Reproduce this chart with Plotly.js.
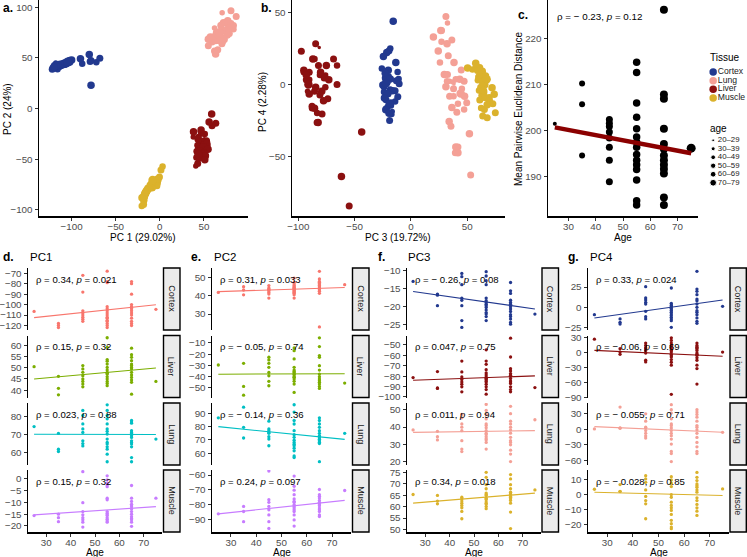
<!DOCTYPE html>
<html><head><meta charset="utf-8">
<script src="https://cdn.plot.ly/plotly-3.0.1.min.js"></script>
<style>html,body{margin:0;padding:0;background:#fff}#chart{width:747px;height:557px}</style>
</head><body><div id="chart"></div>
<script>
const W=747,H=557;
const FONT='Liberation Sans, Arial, Helvetica, sans-serif';
const tissues=['Cortex','Liver','Lung','Muscle'];
const legendTissues=['Cortex','Lung','Liver','Muscle'];
const ageBins=['20–29','30–39','40–49','50–59','60–69','70–79'];

// sample ages (same order for every tissue)
const age=[25,35,35,35,45,45,45,45,45,45,45,45,
55,55,55,55,55,55,55,55,55,55,55,55,55,55,55,
65,65,65,65,65,65,65,65,65,65,65,65,65,65,75];

const pc1Cortex=[-106.5,-118,-120,-122,-72,-88,-106,-108,-110,-112,-114,-116,-68,-78,-79,-102,-104,-106,-108,-110,-112,-113,-115,-116,-118,-120,-122,-78,-80,-90,-100,-102,-103,-104,-106,-108,-110,-113,-116,-118,-120,-104.5];
const pc2Cortex=[41.8,44.9,43.1,40.5,45.5,44.2,43.6,43.1,42.7,41.8,40.9,38.7,49.6,47.3,46.4,45.5,44.9,44.5,44,43.6,43.1,42.7,42.2,41.8,41.3,40.5,38.7,23,53.3,49.1,47.8,47.3,46.7,46,45.5,44.9,44.2,43.6,43.1,42.4,41.3,46];
const pc3Cortex=[-13.1,-19.8,-16.6,-16.9,-18.3,-25.8,-11.8,-19.8,-10.9,-23.9,-14,-17.7,-19.4,-22.8,-12.9,-21,-10.4,-23.9,-18.4,-14,-20.3,-11.6,-22.1,-17.7,-19.8,-21.7,-18.9,-15.7,-21.4,-24.4,-13.4,-20.1,-22.8,-18.3,-24.9,-16.4,-20.7,-23.5,-18.9,-22.3,-19.4,-22.1];
const pc4Cortex=[-9,-14.3,-18.4,-20.5,25.4,11.5,9,6.1,4.1,-4.9,-11.5,-14.3,23.8,4.9,2.9,2,0.8,-1.2,-3.3,-4.1,-6.1,-8.2,-10.2,-12.3,-14.3,-16.4,-24.6,44.3,22.5,19.7,15.6,10.2,8.2,4.1,0,-4.1,-6.1,-9,-13.1,-17.2,-19.7,1.2];

const pc1Liver=[50.5,37.9,46.2,40.8,46.5,51,43.9,49.5,42.7,48,45,41.5,63.5,59.2,47.5,53,45,50.2,53.7,43.9,49,46,51.7,42,48,47.2,43,58.8,55.9,46.8,38.2,43.5,53.2,49.5,54.7,45.7,50.2,48,51.7,44.5,51,43.9];
const pc2Liver=[-29.7,-28.2,-48.8,-56.6,-22.8,-25.2,-28.2,-31.8,-36.3,-39.3,-44.3,-48.2,-14.5,-16.9,-24.3,-31.8,-34.2,-35.4,-36.3,-37.8,-38.4,-40.1,-40.7,-42.2,-44.3,-46.7,-54.2,-5.5,-13.3,-21.3,-22.8,-30.3,-34.2,-37.8,-40.1,-42.2,-43.7,-45.2,-46.7,-48.8,-50.6,-45.8];
const pc3Liver=[-81.4,-75.7,-91.3,-91.8,-85.6,-65.6,-95.1,-80.8,-90.3,-76,-87.8,-83.3,-54.8,-84.6,-97.3,-68.7,-82.1,-90.3,-77,-92.9,-65.6,-85.6,-80.8,-73.8,-87.8,-78.9,-83.3,-43.7,-61.7,-87.1,-75.1,-95.1,-80.2,-92.9,-72.9,-84.6,-79.2,-90.3,-77.6,-85.6,-82.4,-91];
const pc4Liver=[26,6.9,0.3,-4.3,18.1,13.5,8.9,6.9,3.6,-1.6,-16.1,-19.4,-84,28.7,23.4,18.1,13.5,8.9,4.9,3.6,0.3,-4.3,-6.9,-9.6,-14.8,-20.1,-26,-32.6,-63.6,18.1,13.5,10.2,8.9,6.9,3.6,-1.6,-4.3,-6.3,-10.9,-16.1,-26,0.3];

const pc1Lung=[74.5,70.7,62,60.7,83.5,80.7,76,73.2,71.3,66.6,65.1,63.8,86.6,83.5,80.7,78.8,76,73.2,71.9,70.4,67.6,65.7,64.8,63.3,62,59.2,55,77.9,77,76.4,72.2,71.3,70.7,69.4,68.5,66.6,65.7,64.8,63.3,57.3,55,67.6];
const pc2Lung=[86.5,94.5,79.4,71.4,78.2,84,72.4,76.9,65.6,75.6,70.6,74.9,90.8,81.9,96.3,73.9,84.5,68.1,76.9,63.8,71.9,58,69.8,66.8,56.8,65.6,61.8,79.4,86.5,72.4,84.5,69.3,76.9,81.9,71.4,67.3,74.9,73.1,53.7,70.4,68.3,74.9];
const pc3Lung=[38.3,32.5,34.4,37.5,27.2,25.8,39.9,32.1,45.3,37.9,41.8,47.3,31.1,27.2,36.4,33.2,44.7,32.5,47.3,37.9,34.4,49.6,40.8,35.6,41.8,39.5,53.1,26.6,20,32.1,24.3,38.3,29.7,43.4,31.1,47.7,36.4,34,52,39.9,41.8,44.2];
const pc4Lung=[0.6,43,2.6,2.0,30,15.6,3.9,2.6,-2.6,-7.8,-13,-17,47.6,37.8,31.3,20.2,10.4,7.2,2.6,-2.6,-7.8,-12.4,-18.9,-28.7,-43,-47,-62.6,37.8,33.3,28.7,23.5,15.6,7.2,3.9,-1.3,-7.8,-15.7,-25.4,-33.9,-43,-47,-5.9];

const pc1Muscle=[-15.6,-15,-16.5,-18.2,3.1,-10.1,-13.9,-15.3,-16.5,-17.4,-18.4,-20.5,1.3,-0.4,-1.8,-2.6,-3.3,-8.2,-8.9,-13.9,-14.6,-15.3,-15.6,-16.5,-17.2,-17.9,-18.4,-2.8,-8.2,-9.6,-10.8,-11.1,-11.8,-12.8,-13.9,-15,-16.1,-16.8,-17.4,-18.4,-20.2,-8.2];
const pc2Muscle=[-86.3,-81.3,-84.7,-91.6,-57.3,-76.7,-78.5,-81.3,-83.6,-87,-91.6,-96.2,-60.7,-67.6,-70.3,-73.3,-76.2,-77.8,-78.5,-80.1,-81.3,-82.4,-83.6,-84.7,-87,-90.4,-94.6,-69.8,-73.3,-74.4,-75.6,-77.2,-78.5,-79,-80.1,-80.8,-82.4,-83.6,-84.7,-87,-88.1,-70.5];
const pc3Muscle=[65.3,61.2,62.4,64.9,57.9,54.7,61.5,59.5,64.1,60.5,63.4,62.4,61.2,59.1,63.4,60.1,65.9,62,64.9,63,69.6,61.2,72.8,65.3,75,63.8,67.8,57.6,50.4,63.4,61.5,66.3,62.7,65.3,64.1,72.1,64.4,74,65.9,69.6,67.8,67.3];
const pc4Muscle=[3.8,6.9,2.4,2.2,12.9,10.7,8.4,3.3,-1,-3.8,-6,-16,12.2,10,7.8,5.6,0.2,-1.6,-4.9,-7.1,-8.7,-10.4,-13.1,-17.1,-19.3,-21.6,-22.7,15.1,11.8,9.6,7.3,6.2,5.1,3.3,1.8,-2,-3.8,-6.4,-8.7,-10.9,-13.8,4];

// panel c: mean pairwise distance per subject
const distAge=[25,35,35,35,45,45,45,45,45,45,45,45,
55,55,55,55,55,55,55,55,55,55,55,55,55,55,55,
65,65,65,65,65,65,65,65,65,65,65,65,65,75];
const meanDist=[201.5,210.2,205.7,194.6,202.4,201.6,200.9,199.7,198.4,196.4,193.6,188.9,
214.8,212.6,206.0,202.9,200.4,198.6,197.5,196.4,194.8,193.6,192.6,191.6,189.3,184.8,183.9,
226.2,207.8,206.9,200.4,197.1,196.0,194.6,193.6,192.6,191.7,190.7,185.5,183.9,196.2];
const fitAges=[25,75];
const distFit=[200.7,195.1];
const distCor='ρ = − 0.23, <i>p</i> = 0.12';

// linear fits (value at age 25, age 75), order Cortex, Liver, Lung, Muscle
const fitPC1=[[-112.5,-100.2],[45.0,49.9],[70.3,70.1],[-15.3,-11.8]];
const fitPC2=[[42.2,44.5],[-37.9,-37.5],[79.9,70.4],[-86.3,-77.2]];
const fitPC3=[[-15.9,-20.7],[-84,-79.8],[36.9,37.9],[61.5,65.9]];
const fitPC4=[[-13.1,9],[3.6,-8.2],[5.2,-5.9],[1.8,-0.4]];
const corPC1=['ρ = 0.34, <i>p</i> = 0.021','ρ = 0.15, <i>p</i> = 0.32','ρ = 0.023, <i>p</i> = 0.88','ρ = 0.15, <i>p</i> = 0.32'];
const corPC2=['ρ = 0.31, <i>p</i> = 0.033','ρ = − 0.05, <i>p</i> = 0.74','ρ = − 0.14, <i>p</i> = 0.36','ρ = 0.24, <i>p</i> = 0.097'];
const corPC3=['ρ = − 0.26, <i>p</i> = 0.08','ρ = 0.047, <i>p</i> = 0.75','ρ = 0.011, <i>p</i> = 0.94','ρ = 0.34, <i>p</i> = 0.018'];
const corPC4=['ρ = 0.33, <i>p</i> = 0.024','ρ = − 0.06, <i>p</i> = 0.69','ρ = − 0.055, <i>p</i> = 0.71','ρ = − 0.028, <i>p</i> = 0.85'];

// ---- build ----
const pcs={
 Cortex:[pc1Cortex,pc2Cortex,pc3Cortex,pc4Cortex],
 Liver:[pc1Liver,pc2Liver,pc3Liver,pc4Liver],
 Lung:[pc1Lung,pc2Lung,pc3Lung,pc4Lung],
 Muscle:[pc1Muscle,pc2Muscle,pc3Muscle,pc4Muscle]};
const fits=[fitPC1,fitPC2,fitPC3,fitPC4];
const cors=[corPC1,corPC2,corPC3,corPC4];
const tcol={Cortex:'#22398f',Lung:'#f4a096',Liver:'#8b1010',Muscle:'#dbb22c'};
const hue={Cortex:'#F8766D',Liver:'#7CAE00',Lung:'#00BFC4',Muscle:'#C77CFF'};
const binOf=a=>Math.min(5,Math.max(0,Math.floor((a-20)/10)));
const sizeTop=[3.5,5.5,6.5,7,7.5,8.5];
const sizeC=[4,6,7,7.5,8,9];
const sizeLeg=[2.7,4,4.7,5.3,5.7,6.7];

const px=x=>x/W, py=y=>1-y/H;
const data=[],shapes=[],annotations=[];
const layout={width:W,height:H,margin:{l:0,r:0,t:0,b:0},paper_bgcolor:'#fff',plot_bgcolor:'rgba(0,0,0,0)',
 showlegend:false,font:{family:FONT,size:10,color:'#000'}};
const TF={family:FONT,size:9.8,color:'#4d4d4d'};
function ax(domain,range,tickvals,o){
 return Object.assign({domain,range,tickvals,showgrid:false,zeroline:false,showline:true,linecolor:'#000',linewidth:1.5,
 ticks:'outside',ticklen:3,tickwidth:1,tickcolor:'#333',tickfont:TF,fixedrange:true},o||{});
}
// text placed at pixel positions of the figure
function ann(text,x,y,o){annotations.push(Object.assign({text,x:px(x),y:py(y),xref:'paper',yref:'paper',showarrow:false,
 xanchor:'left',yanchor:'middle',font:{family:FONT,size:10,color:'#000'}},o||{}));}

// panel a
layout.xaxis=ax([px(39),px(248)],[-137,100],[-100,-50,0,50],{anchor:'y',ticklabelstandoff:-2});
layout.yaxis=ax([py(216),py(0)],[-106,107],[-100,-50,0,50,100],{anchor:'x'});
// panel b
layout.xaxis2=ax([px(292),px(505)],[-105.6,83.6],[-100,-50,0,50],{anchor:'y2',ticklabelstandoff:-2});
layout.yaxis2=ax([py(216),py(0)],[-91,59],[-50,0,50],{anchor:'x2'});
// panel c
layout.xaxis3=ax([px(548),px(698)],[22.5,77.5],[30,40,50,60,70],{anchor:'y3',ticklabelstandoff:-2});
layout.yaxis3=ax([py(216),py(0)],[181.5,228.3],[190,200,210,220],{anchor:'x3'});

for(const t of legendTissues){
 const s=pcs[t];
 data.push({type:'scatter',mode:'markers',x:s[0],y:s[1],xaxis:'x',yaxis:'y',
  marker:{color:tcol[t],opacity:1,size:age.map(a=>sizeTop[binOf(a)]),line:{width:0}},hoverinfo:'skip'});
 data.push({type:'scatter',mode:'markers',x:s[2],y:s[3],xaxis:'x2',yaxis:'y2',
  marker:{color:tcol[t],opacity:1,size:age.map(a=>sizeTop[binOf(a)]),line:{width:0}},hoverinfo:'skip'});
}
data.push({type:'scatter',mode:'markers',x:distAge,y:meanDist,xaxis:'x3',yaxis:'y3',
 marker:{color:'#000',opacity:1,size:distAge.map(a=>sizeC[binOf(a)]),line:{width:0}},hoverinfo:'skip'});
data.push({type:'scatter',mode:'lines',x:fitAges,y:distFit,xaxis:'x3',yaxis:'y3',
 line:{color:'#8b0000',width:4.5},hoverinfo:'skip'});
annotations.push({text:distCor,x:25,xref:'x3',y:py(17),yref:'paper',xanchor:'left',yanchor:'middle',showarrow:false,
 font:{family:FONT,size:9.8,color:'#000'}});

// legends (category axes)
layout.xaxis4={domain:[px(700),px(747)],range:[0,1],visible:false,fixedrange:true,anchor:'y4'};
layout.yaxis4={domain:[py(102.3),py(67.7)],type:'category',categoryarray:legendTissues,categoryorder:'array',range:[3.5,-0.5],visible:false,fixedrange:true,anchor:'x4'};
layout.xaxis5={domain:[px(700),px(747)],range:[0,1],visible:false,fixedrange:true,anchor:'y5'};
layout.yaxis5={domain:[py(187),py(136)],type:'category',categoryarray:ageBins,categoryorder:'array',range:[5.5,-0.5],visible:false,fixedrange:true,anchor:'x5'};
data.push({type:'scatter',mode:'markers',x:legendTissues.map(()=>0.28),y:legendTissues,xaxis:'x4',yaxis:'y4',
 marker:{color:legendTissues.map(t=>tcol[t]),opacity:1,size:7.5},hoverinfo:'skip'});
data.push({type:'scatter',mode:'text',x:legendTissues.map(()=>0.38),y:legendTissues,text:legendTissues,textposition:'middle right',
 xaxis:'x4',yaxis:'y4',textfont:{family:FONT,size:8.6,color:'#1a1a1a'},hoverinfo:'skip'});
data.push({type:'scatter',mode:'markers',x:ageBins.map(()=>0.28),y:ageBins,xaxis:'x5',yaxis:'y5',
 marker:{color:'#000',opacity:1,size:sizeLeg},hoverinfo:'skip'});
data.push({type:'scatter',mode:'text',x:ageBins.map(()=>0.38),y:ageBins,text:ageBins,textposition:'middle right',
 xaxis:'x5',yaxis:'y5',textfont:{family:FONT,size:7.8,color:'#1a1a1a'},hoverinfo:'skip'});
ann('Tissue',708,58);
ann('age',708,128);

// top labels and titles
ann('<b>a.</b>',1,8,{font:{family:FONT,size:12,color:'#000'}});
ann('<b>b.</b>',259,8,{font:{family:FONT,size:12,color:'#000'}});
ann('<b>c.</b>',516,15,{font:{family:FONT,size:12,color:'#000'}});
ann('PC 1 (29.02%)',143,237,{xanchor:'center'});
ann('PC 3 (19.72%)',398,237,{xanchor:'center'});
ann('Age',623,237,{xanchor:'center'});
ann('PC 2 (24%)',8,109,{xanchor:'center',textangle:-90});
ann('PC 4 (2.28%)',263,102,{xanchor:'center',textangle:-90});
ann('Mean Pairwise Euclidean Distance',519,109,{xanchor:'center',textangle:-90});

// bottom faceted panels
const cols=[
 {x0:28,x1:162,s0:163.5,s1:180,lab:'d.',labx:1,tx:28,pal:hue},
 {x0:212,x1:351,s0:352.5,s1:369,lab:'e.',labx:189,tx:212,pal:hue},
 {x0:407,x1:541,s0:542,s1:558.5,lab:'f.',labx:376,tx:406,pal:tcol},
 {x0:588,x1:729,s0:730,s1:746.3,lab:'g.',labx:566,tx:588,pal:tcol}];
const rows=[[268,330],[335.5,397.5],[403,465],[470,532]];
const yr=[
 [[-124.3,-65],[36.7,64.5],[53.2,87.6],[-22.6,3.8]],
 [[21.3,55.1],[-58.7,-3.4],[51.2,97.6],[-98.6,-56.6]],
 [[-26.5,-9.4],[-100.5,-41.1],[18,53.9],[48.9,76]],
 [[-27.9,48.4],[-90.4,33.3],[-69.2,50.9],[-24.9,16.7]]];
const tv=[
 [[-120,-110,-100,-90,-80,-70],[40,45,50,55,60],[60,70,80],[-20,-15,-10,-5,0]],
 [[30,40,50],[-50,-40,-30,-20,-10],[60,70,80,90],[-90,-80,-70,-60]],
 [[-25,-20,-15,-10],[-100,-90,-80,-70,-60,-50],[20,30,40,50],[50,55,60,65,70,75]],
 [[-25,0,25],[-90,-60,-30,0,30],[-60,-30,0,30],[-20,-10,0,10]]];
cols.forEach((c,ci)=>{
 ann('<b>'+c.lab+'</b>',c.labx,257,{font:{family:FONT,size:12,color:'#000'}});
 ann('PC'+(ci+1),c.tx,257,{font:{family:FONT,size:11.5,color:'#000'}});
 ann('Age',(c.x0+c.x1)/2,552.5,{xanchor:'center'});
 tissues.forEach((t,ri)=>{
  const n=6+ci*4+ri, r=rows[ri], bottom=ri===3;
  layout['xaxis'+n]=ax([px(c.x0),px(c.x1)],[22.5,77.5],[30,40,50,60,70],
   {anchor:'y'+n,showline:bottom,ticks:bottom?'outside':'',showticklabels:bottom,ticklabelstandoff:-2});
  layout['yaxis'+n]=ax([py(r[1]),py(r[0])],yr[ci][ri],tv[ci][ri],{anchor:'x'+n});
  const col=c.pal[t];
  data.push({type:'scatter',mode:'markers',x:age,y:pcs[t][ci],xaxis:'x'+n,yaxis:'y'+n,
   marker:{color:col,opacity:1,size:3.3,line:{width:0}},hoverinfo:'skip'});
  data.push({type:'scatter',mode:'lines',x:fitAges,y:fits[ci][ri],xaxis:'x'+n,yaxis:'y'+n,
   line:{color:col,width:1.1},hoverinfo:'skip'});
  annotations.push({text:cors[ci][ri],x:25,xref:'x'+n,y:py(r[0]+11),yref:'paper',xanchor:'left',yanchor:'middle',
   showarrow:false,font:{family:FONT,size:9.6,color:'#000'}});
  shapes.push({type:'rect',xref:'paper',yref:'paper',x0:px(c.s0),x1:px(c.s1),y0:py(r[1]),y1:py(r[0]),
   fillcolor:'#ebebeb',line:{color:'#000',width:1.4}});
  ann(t,(c.s0+c.s1)/2,(r[0]+r[1])/2,{xanchor:'center',textangle:90,font:{family:FONT,size:9,color:'#1a1a1a'}});
 });
});
layout.shapes=shapes;layout.annotations=annotations;
Plotly.newPlot('chart',data,layout,{displayModeBar:false,staticPlot:true});
</script></body></html>
